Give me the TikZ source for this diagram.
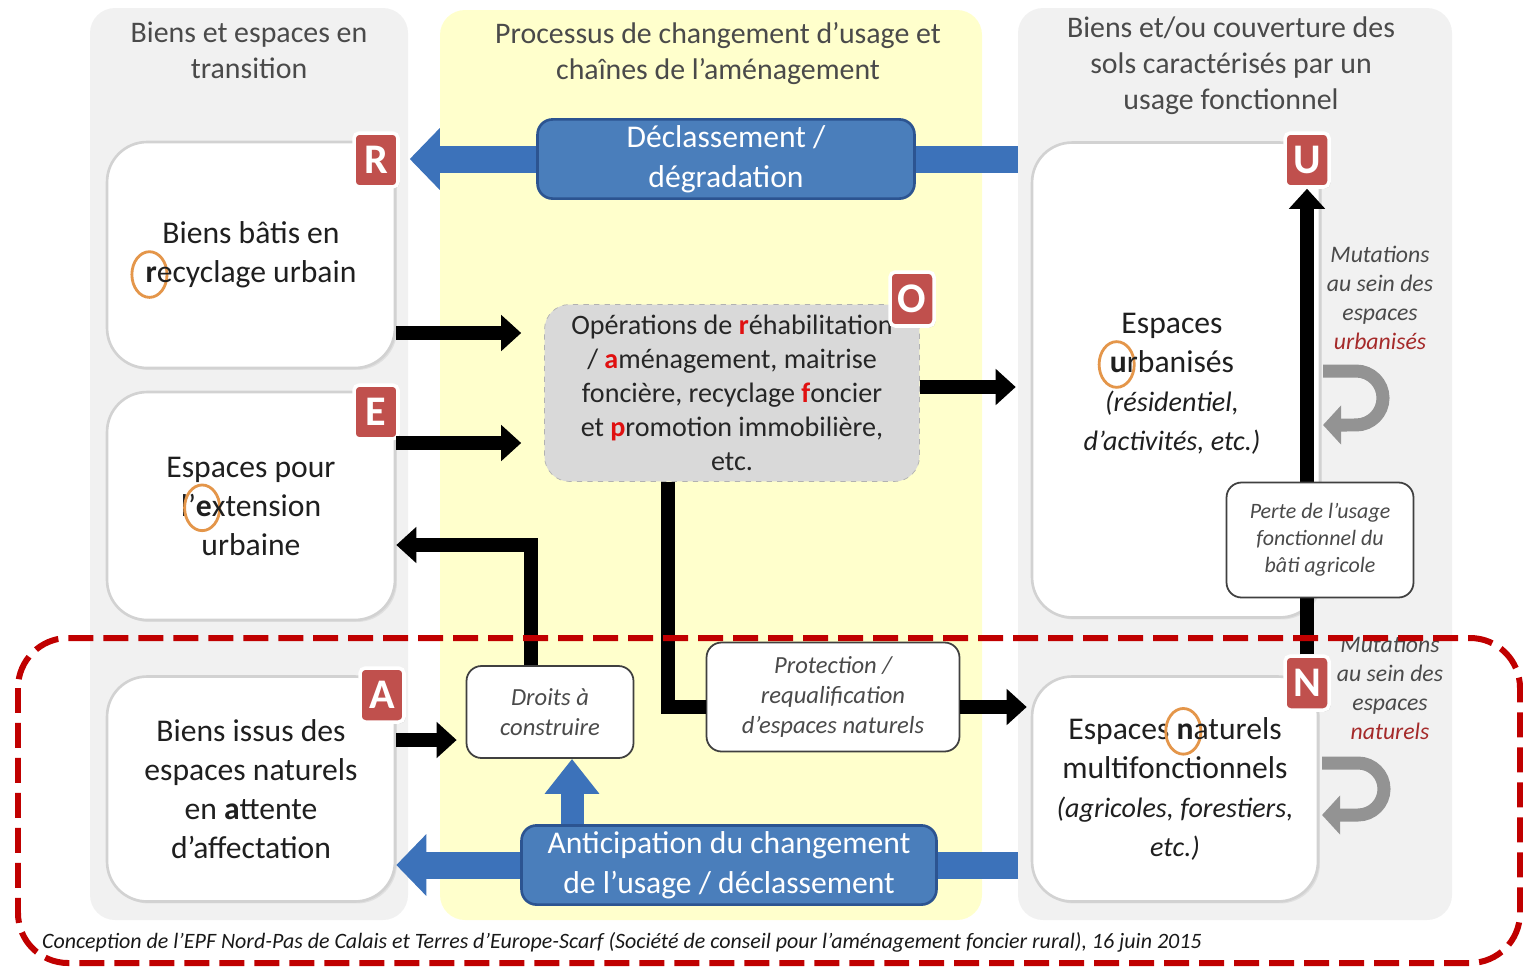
\documentclass[tikz,border=0pt]{standalone}
\usepackage{fontspec}
\setmainfont{Carlito}
\usepackage{xcolor}
\usepackage{tikz}
\usetikzlibrary{positioning}
\usetikzlibrary{arrows.meta,shapes}
\usetikzlibrary{shadows}
\usetikzlibrary{calc}

\definecolor{colgray}{HTML}{F1F1F1}
\definecolor{colyellow}{HTML}{FFFFCC}
\definecolor{badgered}{HTML}{C0504D}
\definecolor{boxblue}{HTML}{4A7EBB}
\definecolor{boxblueline}{HTML}{2C5491}
\definecolor{arrowblue}{HTML}{3C72BA}
\definecolor{txtgray}{HTML}{4A4A4A}
\definecolor{ringorange}{HTML}{E4964A}
\definecolor{hotred}{HTML}{E01010}
\definecolor{darkred}{HTML}{A52A2A}
\definecolor{dashred}{HTML}{C00000}

\newcommand{\ring}[1]{\tikz[baseline=(c.base)]{\node[inner sep=0pt, outer sep=0pt, minimum size=0pt, draw=none, fill=none, font=\bfseries] (c) {#1};\draw[overlay, ringorange, line width=1.6pt, solid] ([xshift=-1pt,yshift=0.26em]c.base) ellipse [x radius=10pt, y radius=13pt];}}
\newcommand{\hot}[1]{\textcolor{hotred}{\textbf{#1}}}
\newcommand{\paren}[1]{{\fontsize{16}{19}\selectfont\itshape #1}}

\begin{document}
\begin{tikzpicture}[x=0.02cm, y=-0.02cm,
  head/.style={text=txtgray, align=center, font=\fontsize{17}{20.5}\selectfont},
  bigbox/.style={draw=gray!35, line width=1.5pt, fill=white, rounded corners=0.8cm, minimum width=5.76cm, align=center, text=black!88, font=\fontsize{18}{22.2}\selectfont, drop shadow={opacity=0.15, shadow xshift=0.04cm, shadow yshift=-0.04cm}},
  badge/.style={fill=badgered, draw=white, line width=2pt, rounded corners=3pt, minimum width=0.88cm, minimum height=1.08cm, inner sep=0pt, text=white, font=\fontsize{24}{24}\selectfont\bfseries, drop shadow={opacity=0.25, shadow xshift=0.03cm, shadow yshift=-0.03cm}},
  bluebox/.style={fill=boxblue, draw=boxblueline, line width=1.5pt, rounded corners=0.3cm, text=white, align=center, font=\fontsize{18}{22.8}\selectfont},
  smallbox/.style={fill=white, draw=black!75, line width=1pt, rounded corners=0.3cm, align=center, text=txtgray, font=\fontsize{14}{17}\selectfont\itshape},
  blk/.style={line width=0.28cm, -{Triangle[length=0.4cm, width=0.7cm]}},
  blkline/.style={line width=0.28cm},
  bluearrow/.style={draw=arrowblue, line width=0.54cm, -{Triangle[length=0.6cm, width=1.2cm]}},
  turnarrow/.style={draw=gray!85, line width=0.26cm, -{Triangle[length=0.36cm, width=0.76cm]}},
  mut/.style={text=txtgray, align=center, font=\fontsize{13.5}{16.5}\selectfont\itshape},
]
 \useasboundingbox (0,0) rectangle (1523,967);

 %columns
 \fill[colgray, rounded corners=0.5cm] (90,8) rectangle (408,920);
 \fill[colyellow, rounded corners=0.5cm] (440,10) rectangle (982,920);
 \fill[colgray, rounded corners=0.5cm] (1018,8) rectangle (1452,920);

 \node[head] (h1) at (249,50) {Biens et espaces en\\transition};
 \node[head] (h2) at (718,54) {Processus de changement d’usage et\\chaînes de l’aménagement};
 \node[head] (h3) at (1231,66) {Biens et/ou couverture des\\sols caractérisés par un\\usage fonctionnel};

 %left boxes
 \node[bigbox, minimum height=4.52cm] (bR) at (251,255) {Biens bâtis en\\\ring{r}ecyclage urbain};
 \node[bigbox, minimum height=4.56cm] (bE) at (251,506) {Espaces pour\\l’\ring{e}xtension\\urbaine};
 \node[bigbox, minimum height=4.5cm] (bA) at (251,789) {Biens issus des\\espaces naturels\\en \textbf{a}ttente\\d’affectation};

 %right boxes
 \node[bigbox, minimum height=9.5cm] (bU) at (1176,380) {};
 \node[align=center, text=black!88, font=\fontsize{18}{22.2}\selectfont] (tU) at (1172,384) {Espaces\\\ring{u}rbanisés\\\paren{(résidentiel,}\\\paren{d’activités, etc.)}};
 \node[bigbox, minimum width=5.72cm, minimum height=4.5cm] (bN) at (1175,789) {Espaces \ring{n}aturels\\multifonctionnels\\\paren{(agricoles, forestiers,}\\\paren{etc.)}};

 %middle
 \node[draw=gray!60, dashed, fill=gray!30, rounded corners=0.5cm, minimum width=7.5cm, minimum height=3.54cm, align=center, text=black!85, font=\fontsize{16}{19.3}\selectfont] (bO) at (732,393) {Opérations de \hot{r}éhabilitation\\/ \hot{a}ménagement, maitrise\\foncière, recyclage \hot{f}oncier\\et \hot{p}romotion immobilière,\\etc.};
 \node[smallbox, minimum width=3.34cm, minimum height=1.84cm] (dr) at (550,712) {Droits à\\construire};
 \node[smallbox, minimum width=5.06cm, minimum height=2.18cm] (prot) at (833,697) {Protection /\\requalification\\d’espaces naturels};

 %badges
 \node[badge] (kR) at (376,160) {R};
 \node[badge] (kE) at (376,412) {E};
 \node[badge] (kA) at (382,695) {A};
 \node[badge] (kU) at (1307,160) {U};
 \node[badge] (kN) at (1307,683) {N};
 \node[badge] (kO) at (912,299) {O};

 %blue arrows
 \coordinate (dStart) at (1018,159);
 \coordinate (aStart) at (1018,865);
 \coordinate (upX) at (572,0);
 \path[bluearrow, shorten >=0.2cm] (dStart) -- (kR.east |- dStart);
 \node[bluebox, minimum width=7.54cm, minimum height=1.56cm] (dec) at (726,159) {Déclassement /\\dégradation};
 \path[bluearrow] (aStart) -- (bA.east |- aStart);
 \node[bluebox, minimum width=8.3cm, minimum height=1.56cm] (anti) at (729,865) {Anticipation du changement\\de l’usage / déclassement};
 \path[bluearrow, line width=0.46cm, -{Triangle[length=0.7cm, width=1.05cm]}] (anti.north -| upX) -- (dr.south -| upX);

 %black arrows
 \coordinate (yR) at (0,333);
 \coordinate (yE) at (0,443);
 \coordinate (yO) at (0,387);
 \coordinate (yA) at (0,740);
 \coordinate (yP) at (0,707);
 \coordinate (xO) at (668,0);
 \coordinate (xD) at (531,545);
 \path[draw, blk, shorten >=0.46cm] (bR.east |- yR) -- (bO.west |- yR);
 \path[draw, blk, shorten >=0.46cm] (bE.east |- yE) -- (bO.west |- yE);
 \path[draw, blk, shorten >=0.3cm] (bO.east |- yO) -- (bU.west |- yO);
 \path[draw, blkline] (bO.south -| xO) |- (prot.west |- yP);
 \path[draw, blk, shorten >=0.08cm] (prot.east |- yP) -- (bN.west |- yP);
 \path[draw, blk] (dr.north -| xD) |- (bE.east |- xD);
 \path[draw, blk, shorten >=0.18cm] (bA.east |- yA) -- (dr.west |- yA);
 \path[draw, blk] (kN.north) -- (kU.south);
 \node[smallbox, minimum width=3.74cm, minimum height=2.3cm, font=\fontsize{12.5}{15.4}\selectfont\itshape] (perte) at (1320,540) {Perte de l’usage\\fonctionnel du\\bâti agricole};

 %mutations
 \draw[turnarrow] (1323,371) -- (1356,371) arc[start angle=90, end angle=-90, radius=0.54cm] -- (1323,425);
 \draw[turnarrow] (1322,763) -- (1358,763) arc[start angle=90, end angle=-90, radius=0.52cm] -- (1322,815);
 \node[mut] (m1) at (1380,298) {Mutations\\au sein des\\espaces\\\textcolor{darkred}{urbanisés}};
 \node[mut] (m2) at (1390,688) {Mutations\\au sein des\\espaces\\\textcolor{darkred}{naturels}};

 %frame
 \draw[dashred, line width=0.12cm, dash pattern=on 0.5cm off 0.2cm, rounded corners=1cm] (18,638) rectangle (1520,963);
 \node[anchor=west, text=black!90, font=\fontsize{12.5}{14}\selectfont\itshape] (cap) at (36,942) {Conception de l’EPF Nord-Pas de Calais et Terres d’Europe-Scarf (Société de conseil pour l’aménagement foncier rural), 16 juin 2015};
\end{tikzpicture}
\end{document}
